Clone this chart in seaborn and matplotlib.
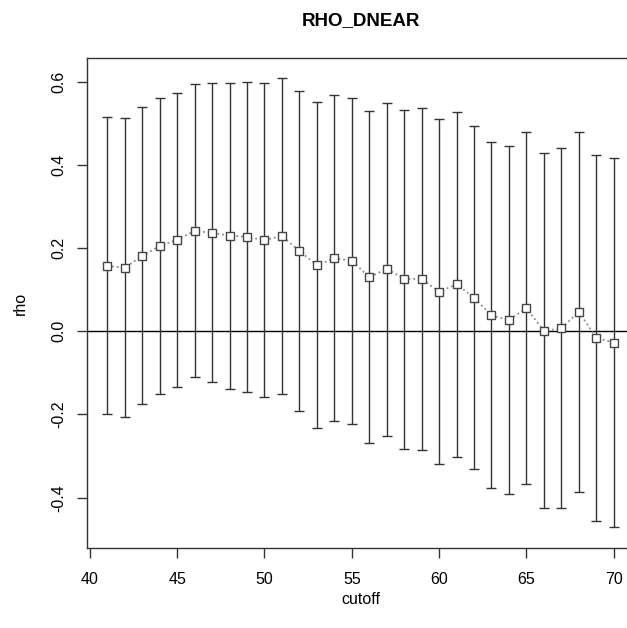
import numpy as np
import pandas as pd
import matplotlib
matplotlib.use("Agg")
import matplotlib.pyplot as plt
import seaborn as sns

# values
cutoff = list(range(41, 71))
rho = [0.157, 0.153, 0.181, 0.205, 0.220, 0.241, 0.237, 0.230, 0.227, 0.219,
       0.229, 0.193, 0.159, 0.175, 0.170, 0.130, 0.150, 0.126, 0.126, 0.095,
       0.113, 0.081, 0.038, 0.027, 0.056, 0.001, 0.007, 0.047, -0.016, -0.027]
upper = [0.514, 0.512, 0.539, 0.561, 0.574, 0.594, 0.596, 0.598, 0.600, 0.596,
         0.609, 0.578, 0.552, 0.567, 0.562, 0.529, 0.550, 0.533, 0.536, 0.511,
         0.528, 0.493, 0.455, 0.445, 0.480, 0.429, 0.440, 0.480, 0.423, 0.416]
lower = [-0.198, -0.207, -0.175, -0.151, -0.134, -0.111, -0.122, -0.138, -0.145, -0.158,
         -0.150, -0.192, -0.232, -0.216, -0.224, -0.268, -0.251, -0.282, -0.285, -0.320,
         -0.302, -0.331, -0.377, -0.390, -0.367, -0.426, -0.426, -0.386, -0.455, -0.471]

x_ticks = [40, 45, 50, 55, 60, 65, 70]
y_ticks = [-0.4, -0.2, 0.0, 0.2, 0.4, 0.6]

df = pd.DataFrame({"cutoff": cutoff, "rho": rho, "upper": upper, "lower": lower})

sns.set_style("ticks")
plt.rcParams['font.family'] = ['Liberation Sans', 'DejaVu Sans']
plt.rcParams['text.color'] = 'black'
plt.rcParams['axes.labelcolor'] = 'black'
plt.rcParams['xtick.color'] = 'black'
plt.rcParams['ytick.color'] = 'black'

fig = plt.figure(figsize=(6.27, 6.28), dpi=100)
# plot region runs past the right edge of the picture, like the reference
ax = fig.add_axes([87 / 627, 80 / 628, 547 / 627, 490 / 628])

# confidence bars
ax.errorbar(df["cutoff"], df["rho"],
            yerr=[df["rho"] - df["lower"], df["upper"] - df["rho"]],
            fmt="none", ecolor="#333333", elinewidth=1, capsize=3.5, capthick=1, zorder=2)

# zero reference line
ax.axhline(0, color="black", lw=1, zorder=1)

# estimates: dotted line with open squares
sns.lineplot(data=df, x="cutoff", y="rho", ax=ax, color="#8a8a8a", linestyle=":",
             lw=1.3, marker="s", markersize=6, markerfacecolor="white",
             markeredgecolor="#444444", markeredgewidth=1, zorder=3)

ax.set_xlim(39.84, 71.16)
ax.set_ylim(-0.521, 0.657)
ax.set_xticks(x_ticks)
ax.set_yticks(y_ticks)
ax.set_xticklabels([str(t) for t in x_ticks], fontsize=11.5)
ax.set_yticklabels([f"{t:.1f}" for t in y_ticks], fontsize=11.5, rotation=90, va="center")
ax.tick_params(axis="x", direction="out", length=7, width=1, color="#333333", pad=10)
ax.tick_params(axis="y", direction="out", length=7, width=1, color="#333333", pad=8)

for s in ax.spines.values():
    s.set_color("#333333")
    s.set_linewidth(1)

ax.set_xlabel("cutoff", fontsize=11.5, labelpad=4)
ax.set_ylabel("rho", fontsize=11.5, labelpad=17)
ax.set_title("RHO_DNEAR", fontsize=13.5, fontweight="bold", pad=24)

fig.savefig("out.png", dpi=100)
